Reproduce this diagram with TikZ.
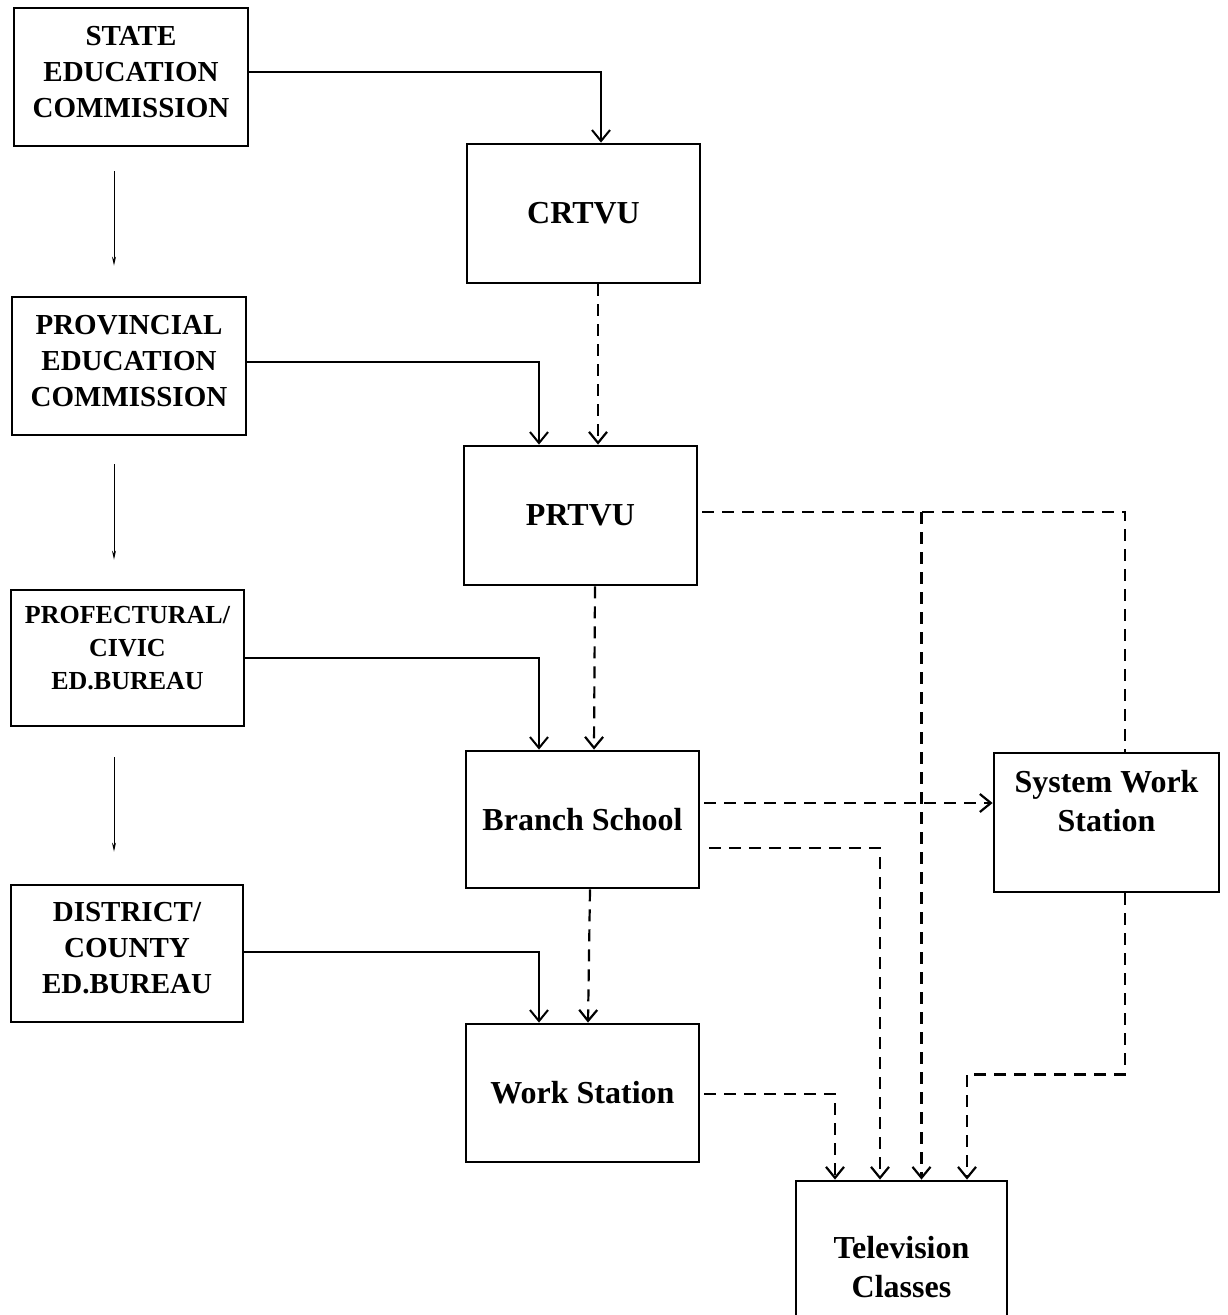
\documentclass[tikz,border=0pt]{standalone}
\usepackage{fontspec}
\setmainfont{Liberation Serif}
\usetikzlibrary{arrows.meta}
\begin{document}
\begin{tikzpicture}[x=1pt,y=-1pt,
  box/.style={draw, line width=2.8pt, rectangle, inner sep=0pt, align=center},
  ltext/.style={align=center, inner sep=0pt, font=\bfseries\fontsize{29}{36}\selectfont},
  rbox/.style={box, font=\bfseries\fontsize{32}{39}\selectfont},
  rtext/.style={align=center, inner sep=0pt, font=\bfseries\fontsize{32}{39}\selectfont},
  conn/.style={line width=2pt, -{Straight Barb[length=11pt,width=18pt]}},
  dconn/.style={line width=2.2pt, dash pattern=on 12pt off 8pt, -{Straight Barb[length=11pt,width=18pt]}},
  dline/.style={line width=2.2pt, dash pattern=on 12pt off 8pt},
  tarr/.style={line width=1pt, -{Stealth[length=9pt,width=4pt]}}
]
\path[use as bounding box] (0,0) rectangle (1228,1315);
\clip (0,0) rectangle (1228,1315);
\fill[white] (0,0) rectangle (1228,1315);

% left column
\node[box, minimum width=234pt, minimum height=138pt] (state) at (131,77) {};
\node[ltext] (stateT) at (131,72) {STATE\\EDUCATION\\COMMISSION};
\node[box, minimum width=234pt, minimum height=138pt] (prov) at (129,366) {};
\node[ltext] (provT) at (129,361) {PROVINCIAL\\EDUCATION\\COMMISSION};
\node[box, minimum width=233pt, minimum height=136pt] (prof) at (127.5,658) {};
\node[ltext, font=\bfseries\fontsize{26}{33}\selectfont] (profT) at (127.5,648) {PROFECTURAL/\\CIVIC\\ED.BUREAU};
\node[box, minimum width=232pt, minimum height=137pt] (dist) at (127,953.5) {};
\node[ltext] (distT) at (127,948.5) {DISTRICT/\\COUNTY\\ED.BUREAU};

% middle column
\node[rbox, minimum width=233pt, minimum height=139pt] (crtvu) at (583.5,213.5) {CRTVU};
\node[rbox, minimum width=233pt, minimum height=139pt] (prtvu) at (580.5,515.5) {PRTVU};
\node[rbox, minimum width=233pt, minimum height=137pt] (branch) at (582.5,819.5) {Branch School};
\node[rbox, minimum width=233pt, minimum height=138pt] (work) at (582.5,1093) {Work Station};

% right
\node[box, minimum width=225pt, minimum height=139pt] (sws) at (1106.5,822.5) {};
\node[rtext] (swsT) at (1106.5,801) {System Work\\Station};
\node[box, minimum width=211pt, minimum height=170pt] (tv) at (901.5,1266) {};
\node[rtext] (tvT) at (901.5,1267) {Television\\Classes};

% thin arrows on the left
\draw[tarr] ([xshift=-17pt,yshift=-24pt]state.south) -- ([xshift=-15pt,yshift=30pt]prov.north);
\draw[tarr] ([xshift=-15pt,yshift=-28pt]prov.south) -- ([xshift=-13.5pt,yshift=29pt]prof.north);
\draw[tarr] ([xshift=-13.5pt,yshift=-30pt]prof.south) -- ([xshift=-13pt,yshift=32pt]dist.north);

% solid connectors
\draw[conn] ([yshift=5pt]state.east) -| ([xshift=17.5pt]crtvu.north);
\draw[conn] ([yshift=4pt]prov.east) -| ([xshift=-41.5pt]prtvu.north);
\draw[conn] (prof.east) -| ([xshift=-43.5pt]branch.north);
\draw[conn] ([yshift=1.5pt]dist.east) -| ([xshift=-43.5pt]work.north);

% dashed vertical chain
\draw[dconn] ([xshift=14.5pt]crtvu.south) -- ([xshift=17.5pt]prtvu.north);
\draw[dconn] ([xshift=14.5pt]prtvu.south) -- ([xshift=11.5pt]branch.north);
\draw[dconn] ([xshift=7.5pt]branch.south) -- ([xshift=5.5pt]work.north);

% coordinates for the right side
\coordinate (prE) at ([xshift=4pt,yshift=3.5pt]prtvu.east);
\coordinate (brU) at ([xshift=4pt,yshift=16.5pt]branch.east);
\coordinate (brL) at ([xshift=9pt,yshift=-28.5pt]branch.east);
\coordinate (wkE) at ([xshift=4pt,yshift=-1pt]work.east);
\coordinate (swsN) at ([xshift=18.5pt]sws.north);
\coordinate (swsS) at ([xshift=18.5pt]sws.south);
\coordinate (tvA) at ([xshift=-66.5pt]tv.north);
\coordinate (tvB) at ([xshift=-21.5pt]tv.north);
\coordinate (tvC) at ([xshift=20pt]tv.north);
\coordinate (tvD) at ([xshift=65.5pt]tv.north);

% PRTVU to System Work Station and Television Classes
\draw[dline] (prE) -| (swsN);
\draw[dconn] (prE -| tvC) -- (tvC);

% Branch School to System Work Station and Television Classes
\draw[dconn] (brU) -- (brU -| sws.west);
\draw[dconn] (brL) -| (tvB);

% Work Station to Television Classes
\draw[dconn] (wkE) -| (tvA);

% System Work Station to Television Classes
\draw[dconn] (swsS) -- ++(0,181) -| (tvD);
\end{tikzpicture}
\end{document}
